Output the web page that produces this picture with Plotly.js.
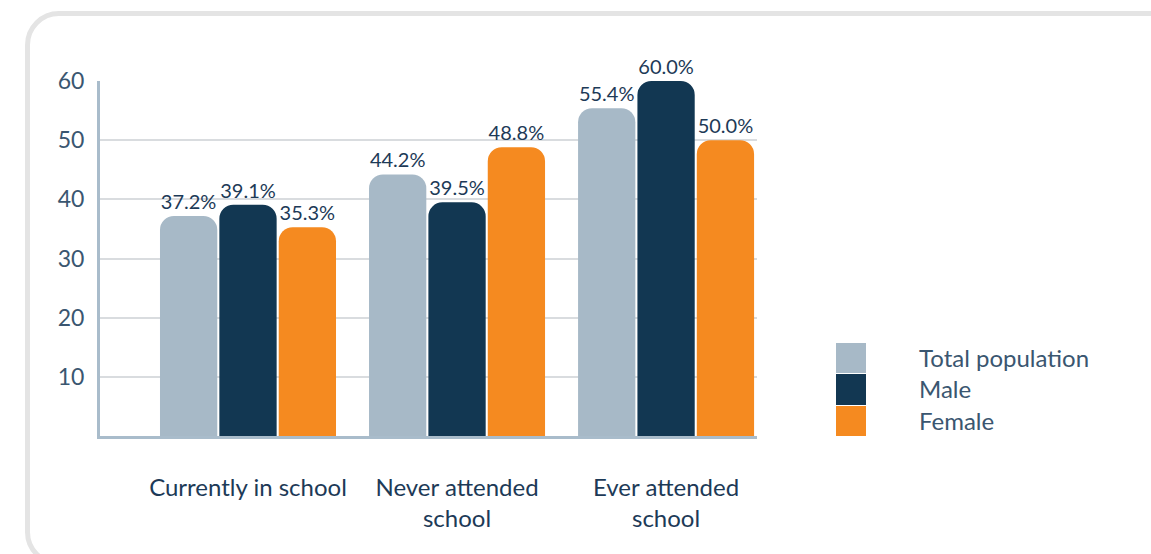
<!DOCTYPE html>
<html>
<head>
<meta charset="utf-8">
<script src="https://cdn.plot.ly/plotly-3.0.1.min.js"></script>
<style>
  html, body { margin: 0; padding: 0; background: #ffffff; overflow: hidden; }
  #card {
    position: absolute; left: 25px; top: 11px;
    width: 1200px; height: 545px;
    border: 5px solid #e4e4e4; border-radius: 34px;
    box-sizing: content-box;
  }
  #chart { position: absolute; left: 0; top: 0; width: 1151px; height: 554px; }
</style>
</head>
<body>
<div id="card"></div>
<div id="chart"></div>
<script>
// ---- data ----
const categories = ["Currently in school", "Never attended school", "Ever attended school"];
const categoryLabels = ["Currently in school", "Never attended<br>school", "Ever attended<br>school"];
const seriesNames = ["Total population", "Male", "Female"];
const totalValues = [37.2, 44.2, 55.4];
const maleValues = [39.1, 39.5, 60.0];
const femaleValues = [35.3, 48.8, 50.0];
const yTicks = [10, 20, 30, 40, 50, 60];

const colors = ["#a7b9c7", "#123752", "#f58a20"];
const textColor = "#1d3a57";
const tickColor = "#3a5670";
const FONT = "Lato, 'Open Sans', sans-serif";

const W = 1151, H = 554;
const seriesValues = [totalValues, maleValues, femaleValues];

const traces = seriesValues.map((vals, i) => ({
  type: "bar",
  name: seriesNames[i],
  x: categories,
  y: vals,
  marker: { color: colors[i], cornerradius: 14 },
  texttemplate: "%{y:.1f}%",
  textposition: "outside",
  textfont: { family: FONT, size: 20, color: textColor },
  cliponaxis: false,
  hoverinfo: "skip",
  showlegend: false,
  xaxis: "x", yaxis: "y"
}));

// legend drawn as a small heatmap with labelled rows
traces.push({
  type: "heatmap",
  x: ["swatch"],
  y: seriesNames,
  z: seriesNames.map((n, i) => [i]),
  zmin: 0, zmax: 2,
  colorscale: [[0, colors[0]], [0.5, colors[1]], [1, colors[2]]],
  showscale: false,
  ygap: 1,
  hoverinfo: "skip",
  xaxis: "x2", yaxis: "y2"
});

const layout = {
  width: W, height: H,
  margin: { l: 0, r: 0, t: 0, b: 0 },
  paper_bgcolor: "rgba(0,0,0,0)",
  plot_bgcolor: "rgba(0,0,0,0)",
  font: { family: FONT, color: tickColor },
  barmode: "group",
  bargap: 0.148,
  bargroupgap: 0.035,
  showlegend: false,
  xaxis: {
    domain: [100 / W, 757 / W],
    anchor: "y",
    type: "category",
    range: [-0.708, 2.435],
    tickvals: categories,
    ticktext: categoryLabels,
    tickfont: { family: FONT, size: 24, color: textColor },
    ticks: "",
    ticklabelstandoff: 28,
    showline: true, linecolor: "#a9bccb", linewidth: 3,
    showgrid: false, zeroline: false,
    automargin: false, fixedrange: true
  },
  yaxis: {
    domain: [1 - 436 / H, 1 - 81 / H],
    anchor: "x",
    range: [0, 60],
    tickvals: yTicks,
    ticktext: yTicks.map(String),
    tickfont: { family: FONT, size: 23, color: tickColor },
    ticks: "",
    ticklabelstandoff: 8,
    showline: true, linecolor: "#a9bccb", linewidth: 3,
    showgrid: true, gridcolor: "#d9dcdf", gridwidth: 2,
    zeroline: false,
    automargin: false, fixedrange: true
  },
  xaxis2: {
    domain: [836 / W, 866 / W],
    anchor: "y2",
    showticklabels: false, showgrid: false, zeroline: false, showline: false,
    ticks: "", fixedrange: true
  },
  yaxis2: {
    domain: [1 - 437 / H, 1 - 343 / H],
    anchor: "x2",
    side: "right",
    autorange: "reversed",
    tickfont: { family: FONT, size: 24, color: tickColor },
    ticks: "",
    ticklabelstandoff: 52,
    showgrid: false, zeroline: false, showline: false,
    automargin: false, fixedrange: true
  }
};

Plotly.newPlot("chart", traces, layout, { displayModeBar: false, staticPlot: true });
</script>
</body>
</html>
